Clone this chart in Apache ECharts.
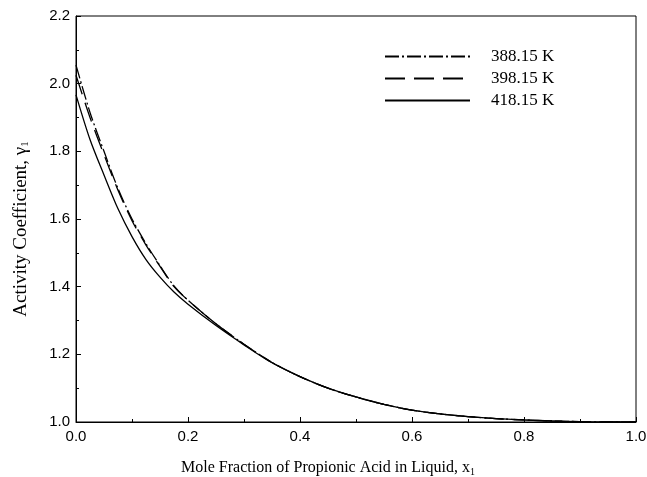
<!DOCTYPE html>
<html>
<head>
<meta charset="utf-8">
<script src="https://cdn.jsdelivr.net/npm/echarts@6/dist/echarts.min.js"></script>
<style>
  html, body { margin: 0; padding: 0; background: #fff; }
  #chart { width: 647px; height: 477px; }
</style>
</head>
<body>
<div id="chart"></div>
<script>
// mole fraction x1
const xs = [0, 0.025, 0.05, 0.075, 0.1, 0.125, 0.15, 0.175, 0.2, 0.25, 0.3, 0.35, 0.4, 0.45, 0.5, 0.55, 0.6, 0.65, 0.7, 0.75, 0.8, 0.85, 0.9, 0.95, 1.0];
// activity coefficient gamma1 at each temperature
const gamma388 = [2.055, 1.915, 1.8, 1.69, 1.6, 1.527, 1.462, 1.402, 1.36, 1.29, 1.23, 1.176, 1.134, 1.1, 1.074, 1.052, 1.035, 1.024, 1.016, 1.01, 1.006, 1.003, 1.001, 1.0, 1.0];
const gamma398 = [2.025, 1.9, 1.79, 1.685, 1.595, 1.523, 1.46, 1.4, 1.36, 1.29, 1.23, 1.176, 1.134, 1.1, 1.074, 1.052, 1.035, 1.024, 1.016, 1.01, 1.006, 1.003, 1.001, 1.0, 1.0];
const gamma418 = [1.967, 1.835, 1.73, 1.63, 1.548, 1.48, 1.428, 1.384, 1.348, 1.285, 1.228, 1.175, 1.134, 1.1, 1.074, 1.052, 1.035, 1.024, 1.016, 1.01, 1.006, 1.003, 1.001, 1.0, 1.0];
const seriesNames = ["388.15 K", "398.15 K", "418.15 K"];

const chart = echarts.init(document.getElementById("chart"));

const pair = (ys) => xs.map((x, i) => [x, ys[i]]);
const tickFont = { fontFamily: "Liberation Sans", fontSize: 15, color: "#000" };
const subRich = (size) => ({ s: { fontFamily: "Liberation Serif", fontSize: size, color: "#000", verticalAlign: "bottom", padding: [8, 0, 0, 0] } });

const lineSeries = (name, ys, dash) => ({
  name: name,
  type: "line",
  data: pair(ys),
  smooth: 0.3,
  symbol: "none",
  lineStyle: { color: "#000", width: 1.3, type: dash },
  itemStyle: { color: "#000" },
});

chart.setOption({
  animation: false,
  backgroundColor: "#fff",
  grid: {
    left: 76, right: 11, top: 16, bottom: 55,
    outerBoundsMode: "none",
    containLabel: false,
    show: true, borderColor: "#000", borderWidth: 1,
  },
  legend: {
    orient: "vertical",
    left: 379,
    top: 43,
    itemWidth: 85,
    itemHeight: 14,
    itemGap: 5,
    itemStyle: { opacity: 0 },
    textStyle: { fontFamily: "Liberation Serif", fontSize: 17, color: "#000", padding: [0, 0, 0, 16] },
    data: seriesNames,
  },
  xAxis: {
    type: "value",
    min: 0, max: 1, interval: 0.2,
    name: "Mole Fraction of Propionic Acid in Liquid, x{s|1}",
    nameLocation: "middle",
    nameGap: 37,
    nameTextStyle: { fontFamily: "Liberation Serif", fontSize: 16, color: "#000", padding: [0, 56, 0, 0], rich: subRich(10) },
    axisLine: { show: true, onZero: false, lineStyle: { color: "#000", width: 1 } },
    axisTick: { inside: true, length: 5, lineStyle: { color: "#000" } },
    minorTick: { show: true, splitNumber: 2, length: 3, lineStyle: { color: "#000" } },
    splitLine: { show: false },
    axisLabel: Object.assign({ margin: 7, formatter: (v) => v.toFixed(1) }, tickFont),
  },
  yAxis: {
    type: "value",
    min: 1.0, max: 2.2, interval: 0.2,
    name: "Activity Coefficient, γ{s|1}",
    nameLocation: "middle",
    nameGap: 45,
    nameTextStyle: { fontFamily: "Liberation Serif", fontSize: 19, color: "#000", padding: [0, 20, 0, 0], rich: subRich(11) },
    axisLine: { show: true, onZero: false, lineStyle: { color: "#000", width: 1 } },
    axisTick: { inside: true, length: 5, lineStyle: { color: "#000" } },
    minorTick: { show: true, splitNumber: 2, length: 3, lineStyle: { color: "#000" } },
    splitLine: { show: false },
    axisLabel: Object.assign({ margin: 6, formatter: (v) => v.toFixed(1) }, tickFont),
  },
  series: [
    lineSeries(seriesNames[0], gamma388, [14, 3, 2, 3]),
    lineSeries(seriesNames[1], gamma398, [20, 9]),
    lineSeries(seriesNames[2], gamma418, "solid"),
  ],
});
</script>
</body>
</html>
